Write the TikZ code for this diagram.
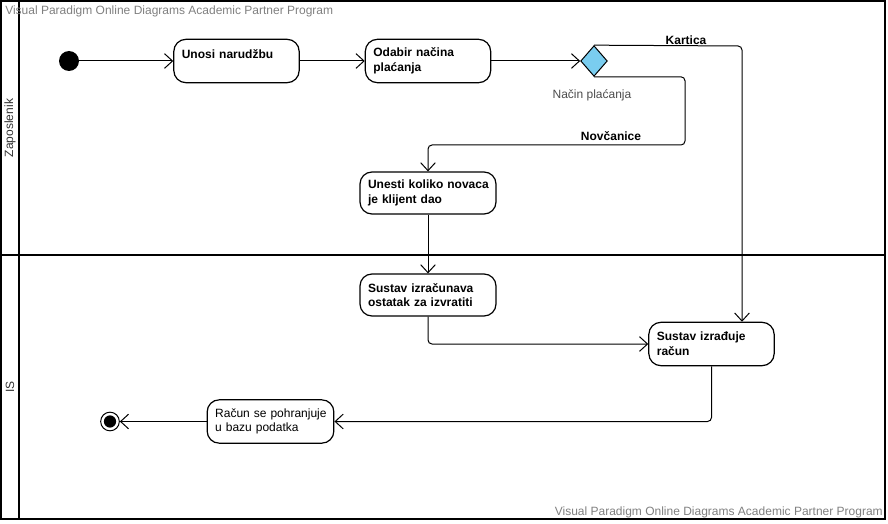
\documentclass[tikz,border=0pt]{standalone}
\usepackage{fontspec}
\setmainfont{Liberation Sans}
\usetikzlibrary{arrows.meta,shapes.geometric}
\definecolor{odluka}{HTML}{7ACDEF}
\tikzset{
  akt/.style={draw,rectangle,rounded corners=9pt,line width=0.9pt,inner xsep=6pt,
    align=left,font=\fontsize{9}{11}\selectfont\bfseries,minimum height=32.5pt},
  tok/.style={-{Straight Barb[length=6pt,width=11pt]},line width=0.75pt,rounded corners=3pt},
  oznaka/.style={font=\fontsize{9}{11}\selectfont\bfseries},
  vodeni/.style={font=\fontsize{9}{11}\selectfont,text=black!50,inner sep=0pt}
}
\begin{document}
\begin{tikzpicture}[x=0.75pt,y=-0.75pt]
\useasboundingbox (0,0) rectangle (888,524);
\draw[line width=1.3pt](1,1) rectangle (885,519);
\draw[line width=1.3pt](19,1)--(19,519);
\draw[line width=1.3pt](1,255)--(885,255);
\node[vodeni,anchor=west] (vp1) at (5,11) {Visual Paradigm Online Diagrams Academic Partner Program};
\node[vodeni,anchor=east] (vp2) at (883,512) {Visual Paradigm Online Diagrams Academic Partner Program};
\node[rotate=90,font=\fontsize{9}{11}\selectfont,text=black!80] (zap) at (10,128) {Zaposlenik};
\node[rotate=90,font=\fontsize{9}{11}\selectfont,text=black!80] (is) at (10,387) {IS};
%
\node[circle,fill=black,minimum size=15pt,inner sep=0pt] (start) at (69,61) {};
\node[akt,text width=82pt] (unos) at (236.5,61) {\mbox{Unosi narudžbu}\\\mbox{}};
\node[akt,text width=82pt] (odabir) at (428,61) {\mbox{Odabir načina}\\\mbox{plaćanja}};
\node[diamond,draw,fill=odluka,line width=0.75pt,minimum width=20pt,minimum height=23pt,inner sep=0pt] (odl) at (594,61) {};
\node[akt,text width=90pt,minimum height=31.5pt] (unesi) at (428,193) {\mbox{Unesti koliko novaca}\\\mbox{je klijent dao}};
\node[akt,text width=90pt,minimum height=31.5pt] (ostatak) at (428,295) {\mbox{Sustav izračunava}\\\mbox{ostatak za izvratiti}};
\node[akt,text width=82pt] (racun) at (711.5,344) {\mbox{Sustav izrađuje}\\\mbox{račun}};
\node[akt,text width=83pt,font=\fontsize{9}{11}\selectfont] (baza) at (270.5,421.5) {\mbox{Račun se pohranjuje}\\\mbox{u bazu podatka}};
\node[circle,draw,line width=0.75pt,minimum size=14pt,inner sep=0pt,
  path picture={\fill (path picture bounding box.center) circle (4.6pt);}] (kraj) at (110,421.5) {};
%
\coordinate (kt) at (742,46);
\coordinate (nv) at (685,145);
\draw[tok](start)--(unos);
\draw[tok](unos)--(odabir);
\draw[tok](odabir)--(odl);
\draw[tok](odl.north)--(kt)--(kt|-racun.north);
\draw[tok](odl.south)-|(nv)-|(unesi.north);
\draw[tok](unesi)--(ostatak);
\draw[tok](ostatak.south)|-(racun.west);
\draw[tok](racun.south)|-(baza.east);
\draw[tok](baza)--(kraj);
%
\node[oznaka] (lk) at (686,40) {Kartica};
\node[oznaka] (ln) at (611,136) {Novčanice};
\node[font=\fontsize{9}{11}\selectfont,text=black!70] (lo) at (592,95) {Način plaćanja};
\end{tikzpicture}
\end{document}
